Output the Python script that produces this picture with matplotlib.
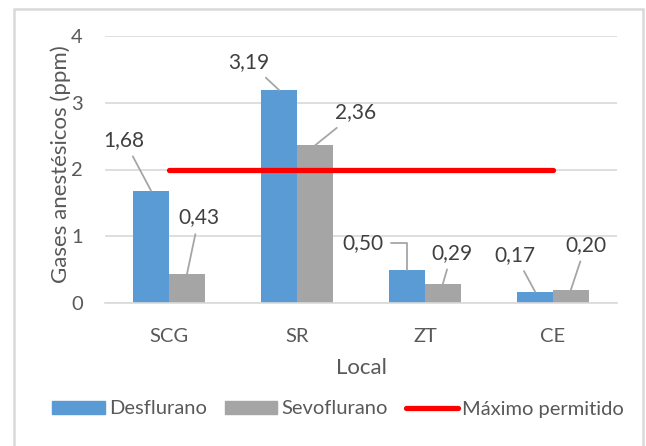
import matplotlib
matplotlib.use("Agg")
import matplotlib.pyplot as plt
from matplotlib.patches import Rectangle, Patch
from matplotlib.lines import Line2D
import numpy as np

plt.rcParams['font.family'] = ['Lato', 'DejaVu Sans']

categories = ["SCG", "SR", "ZT", "CE"]
desflurano = [1.68, 3.19, 0.50, 0.17]
sevoflurano = [0.43, 2.36, 0.29, 0.20]
maximo = 2.0
des_labels = ["1,68", "3,19", "0,50", "0,17"]
sev_labels = ["0,43", "2,36", "0,29", "0,20"]
yticks = [0, 1, 2, 3, 4]

# label offsets in pixels (dx, dy up) relative to bar top
des_off = [(-27, 51), (-30, 28), (-44, 27), (-20, 37)]
sev_off = [(12, 57), (41, 33), (9, 31), (15, 45)]

W, H = 646, 446
fig = plt.figure(figsize=(W / 100, H / 100), dpi=100)
ax = fig.add_axes([105 / W, 1 - 303 / H, 512 / W, 267 / H])

x = np.arange(len(categories))
bw = 0.28
blue = "#5B9BD5"
gray = "#A5A5A5"
ax.bar(x - bw / 2, desflurano, bw, color=blue, zorder=2)
ax.bar(x + bw / 2, sevoflurano, bw, color=gray, zorder=2)
ax.plot([x[0], x[-1]], [maximo, maximo], color="#FF0000", lw=3.8,
        solid_capstyle="round", zorder=3)

ax.set_xlim(-0.5, len(categories) - 0.5)
ax.set_ylim(0, 4)
ax.set_yticks(yticks)
ax.set_yticklabels([str(t) for t in yticks])
ax.set_xticks(x)
ax.set_xticklabels(categories)
ax.grid(axis="y", color="#D9D9D9", lw=1.2, zorder=0)
ax.set_axisbelow(True)
for s in ["top", "right", "left"]:
    ax.spines[s].set_visible(False)
ax.spines["bottom"].set_color("#D9D9D9")
ax.spines["bottom"].set_linewidth(1.2)
ax.tick_params(axis="both", length=0, labelsize=14.5, colors="#595959")
ax.tick_params(axis="x", pad=18)
ax.tick_params(axis="y", pad=16)
ax.set_ylabel("Gases anestésicos (ppm)", fontsize=16, color="#595959")
ax.yaxis.set_label_coords(-0.066, 0.52)
ax.set_xlabel("Local", fontsize=16, color="#595959", labelpad=9)

def label(xc, val, txt, off, bent=False):
    props = dict(arrowstyle="-", color="#A6A6A6", lw=1.3, shrinkA=3, shrinkB=0)
    if bent:
        props["connectionstyle"] = "angle,angleA=0,angleB=90,rad=0"
    ax.annotate(txt, xy=(xc, val), xytext=off, textcoords="offset pixels",
                ha="center", va="center", fontsize=15, color="#404040",
                arrowprops=props, zorder=5)

for i in range(len(categories)):
    label(x[i] - bw / 2, desflurano[i], des_labels[i], des_off[i], bent=(i == 2))
    label(x[i] + bw / 2, sevoflurano[i], sev_labels[i], sev_off[i])

handles = [Patch(color=blue), Patch(color=gray),
           Line2D([], [], color="#FF0000", lw=3.8, solid_capstyle="round")]
names = ["Desflurano", "Sevoflurano", "Máximo permitido"]
fig.legend(handles, names, loc="center", bbox_to_anchor=(338 / W, 1 - 409 / H), ncol=3,
           frameon=False, fontsize=14.5, handlelength=2.6, handleheight=0.65,
           handletextpad=0.2, columnspacing=0.9, labelcolor="#595959")

fig.patches.append(Rectangle((14 / W, -0.05), 629 / W, 1.05 - 9 / H,
                             transform=fig.transFigure, fill=False,
                             edgecolor="#D9D9D9", lw=1.8))

fig.savefig("out.png", dpi=100)
